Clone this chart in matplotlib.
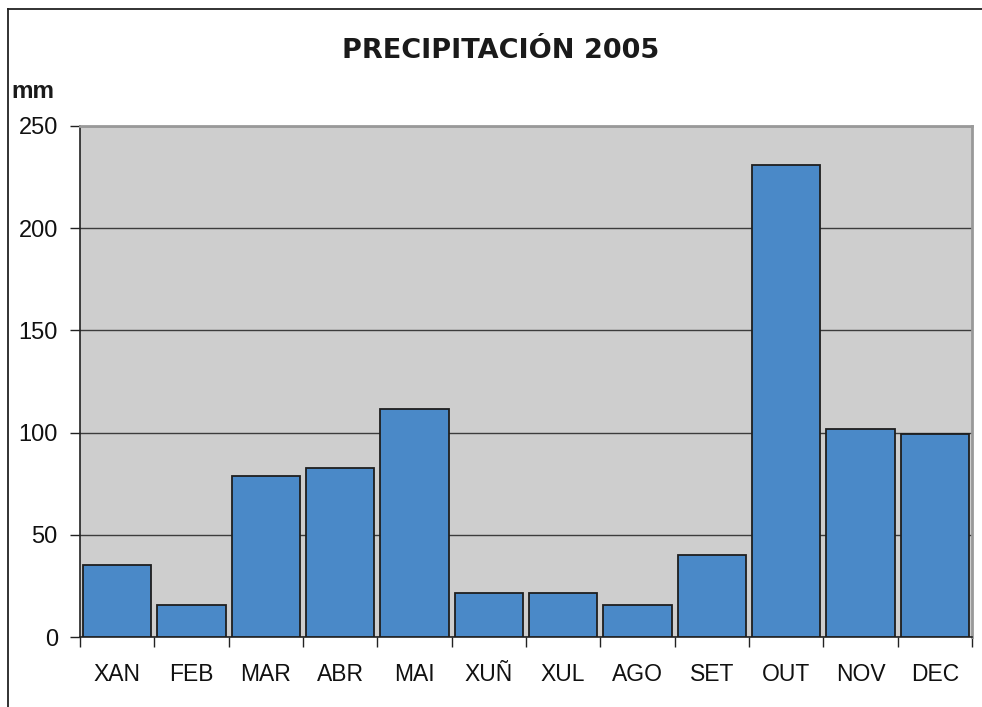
import numpy as np
import matplotlib.pyplot as plt
from matplotlib.lines import Line2D

months = ['XAN', 'FEB', 'MAR', 'ABR', 'MAI', 'XUÑ', 'XUL', 'AGO', 'SET', 'OUT', 'NOV', 'DEC']
precip = [35.4, 15.5, 78.6, 82.8, 111.4, 21.6, 21.6, 15.5, 39.9, 230.7, 101.8, 99.4]
yticks = [0, 50, 100, 150, 200, 250]

plt.rcParams['font.family'] = ['Liberation Sans', 'DejaVu Sans']

W, H = 982, 707
fig = plt.figure(figsize=(W / 100, H / 100), dpi=100)
ax = fig.add_axes([80 / W, 70 / H, 892 / W, 511 / H])

ax.set_facecolor('#cecece')
x = np.arange(len(months))
ax.bar(x, precip, width=0.92, color='#4a89c8', edgecolor='#1e1e1e', linewidth=1.3, zorder=3)

ax.set_xlim(-0.5, len(months) - 0.5)
ax.set_ylim(0, 250)
ax.set_yticks(yticks)
ax.yaxis.grid(True, color='#3c3c3c', linewidth=1.0)
ax.set_axisbelow(True)

# ticks between categories, labels at the centers
ax.set_xticks(np.arange(-0.5, len(months), 1))
ax.set_xticklabels([])
ax.set_xticks(x, labels=months, minor=True)
ax.tick_params(axis='x', which='major', direction='out', length=7, color='#222222', width=1)
ax.tick_params(axis='x', which='minor', length=0, pad=19, labelsize=16.5, labelcolor='#111111')
ax.tick_params(axis='y', direction='out', length=7, pad=9, labelsize=17, color='#222222',
               labelcolor='#111111', width=1)

for s in ['top', 'right']:
    ax.spines[s].set_color('#999999')
    ax.spines[s].set_linewidth(2)
for s in ['left', 'bottom']:
    ax.spines[s].set_color('#222222')
    ax.spines[s].set_linewidth(1.2)

fig.text(501 / W, 1 - 51 / H, 'PRECIPITACIÓN 2005', ha='center', va='center',
         fontsize=19.5, fontweight='bold', family='DejaVu Sans', color='#1a1a1a')
fig.text(11 / W, 1 - 98 / H, 'mm', ha='left', va='baseline', fontsize=17.5,
         fontweight='bold', color='#1a1a1a')

# outer frame (cut off at right and bottom)
fig.add_artist(Line2D([8 / W, 8 / W], [0, 1 - 9 / H], transform=fig.transFigure,
                      color='#222222', lw=1.3))
fig.add_artist(Line2D([8 / W, 1], [1 - 9 / H, 1 - 9 / H], transform=fig.transFigure,
                      color='#222222', lw=1.3))

fig.savefig('out.png', dpi=100)
